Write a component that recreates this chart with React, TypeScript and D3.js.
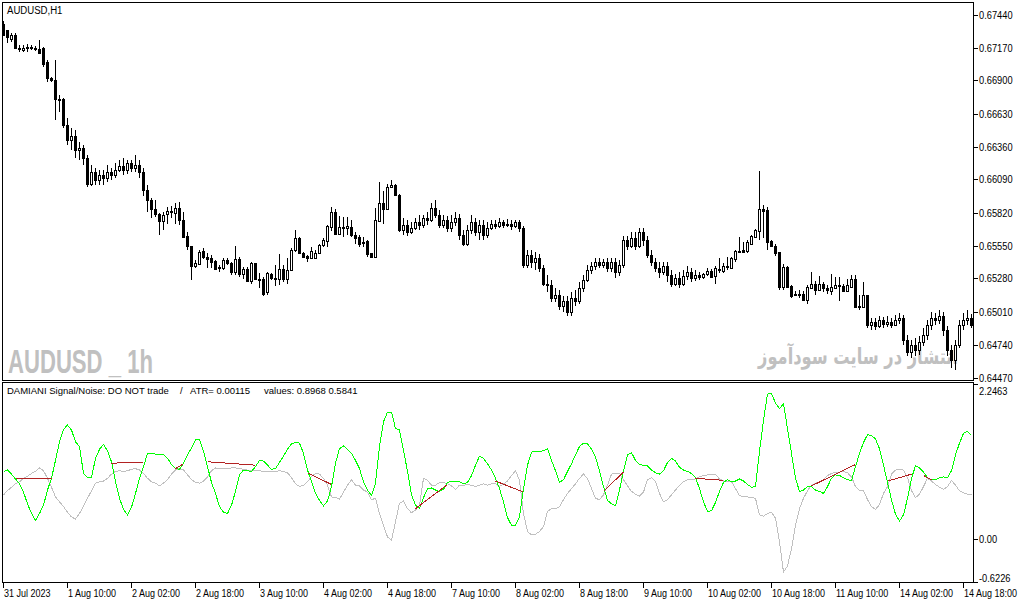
import { useEffect, useRef } from "react";
import * as d3 from "d3";

// AUDUSD H1 candles, bar 0 = 31 Jul 18:00
const open = [
  0.67366, 0.6731, 0.67236, 0.67269, 0.67163, 0.67146, 0.67163, 0.67171, 0.67163, 0.67154,
  0.67163, 0.67048, 0.66917, 0.66908, 0.66745, 0.66745, 0.66532, 0.6641, 0.6645, 0.66328,
  0.66345, 0.66263, 0.66057, 0.66148, 0.66082, 0.66123, 0.66099, 0.66148, 0.66123, 0.66164,
  0.66197, 0.66164, 0.66221, 0.66181, 0.66205, 0.66148, 0.66, 0.65919, 0.65845, 0.65804,
  0.65747, 0.65804, 0.65829, 0.65812, 0.65854, 0.65755, 0.65624, 0.6555, 0.65379, 0.65395,
  0.65502, 0.65453, 0.65445, 0.6542, 0.65371, 0.65363, 0.65428, 0.65403, 0.6533, 0.65436,
  0.65313, 0.65354, 0.65256, 0.65403, 0.65272, 0.65272, 0.65166, 0.65313, 0.65281, 0.65272,
  0.65354, 0.65272, 0.65346, 0.6551, 0.65608, 0.65485, 0.65461, 0.65445, 0.65445, 0.65485,
  0.65558, 0.65583, 0.65698, 0.65821, 0.65648, 0.65698, 0.6569, 0.65698, 0.6564, 0.65616,
  0.65575, 0.65583, 0.65488, 0.65453, 0.65747, 0.65894, 0.65845, 0.66025, 0.66041, 0.65967,
  0.65673, 0.65714, 0.65657, 0.6569, 0.65739, 0.65714, 0.65772, 0.65755, 0.65854, 0.65796,
  0.65714, 0.65755, 0.6569, 0.65739, 0.65772, 0.65632, 0.65566, 0.65673, 0.65739, 0.65657,
  0.65714, 0.65632, 0.6569, 0.65722, 0.65706, 0.65739, 0.65714, 0.6573, 0.65706, 0.65739,
  0.6569, 0.65387, 0.65469, 0.65412, 0.65445, 0.65363, 0.65239, 0.65223, 0.65117, 0.65149,
  0.65059, 0.651, 0.65003, 0.65117, 0.651, 0.65199, 0.65264, 0.65346, 0.65379, 0.65412,
  0.65387, 0.65412, 0.65363, 0.65412, 0.6533, 0.65387, 0.65591, 0.6555, 0.65608, 0.6555,
  0.65657, 0.65591, 0.65469, 0.65412, 0.65363, 0.6533, 0.65379, 0.65305, 0.65239, 0.65281,
  0.65231, 0.65297, 0.6533, 0.65281, 0.65305, 0.65289, 0.65313, 0.65338, 0.65297, 0.65354,
  0.65338, 0.65379, 0.65363, 0.65436, 0.65502, 0.6551, 0.65502, 0.65566, 0.65616, 0.65665,
  0.65845, 0.65837, 0.65583, 0.6555, 0.65494, 0.65207, 0.65371, 0.65215, 0.65141, 0.65157,
  0.65157, 0.65108, 0.65199, 0.65239, 0.65182, 0.65239, 0.65199, 0.65174, 0.65199, 0.65223,
  0.65215, 0.65174, 0.65207, 0.65272, 0.65051, 0.65043, 0.65141, 0.64896, 0.64921, 0.64888,
  0.64937, 0.64904, 0.64921, 0.64896, 0.64937, 0.64954, 0.64773, 0.64675, 0.64732, 0.64691,
  0.64757, 0.64814, 0.64896, 0.64954, 0.64937, 0.6497, 0.64855, 0.64691, 0.6461, 0.64732,
  0.64896, 0.64937, 0.64954,
];
const high = [
  0.67383, 0.67317, 0.67285, 0.67285, 0.67187, 0.67187, 0.67195, 0.67187, 0.67179, 0.67228,
  0.67171, 0.67064, 0.66925, 0.67064, 0.66778, 0.66754, 0.6659, 0.66508, 0.66491, 0.66394,
  0.66369, 0.66287, 0.66205, 0.66181, 0.66164, 0.66164, 0.66205, 0.66181, 0.66221, 0.66246,
  0.66263, 0.66246, 0.66246, 0.66287, 0.66246, 0.66181, 0.66041, 0.65935, 0.65919, 0.65812,
  0.65821, 0.65862, 0.6587, 0.65894, 0.65903, 0.65821, 0.65657, 0.6555, 0.65428, 0.6551,
  0.65526, 0.65485, 0.65469, 0.65428, 0.65387, 0.65445, 0.65445, 0.65412, 0.6555, 0.65453,
  0.65371, 0.65371, 0.65412, 0.65403, 0.65321, 0.65289, 0.6533, 0.65321, 0.65387, 0.65477,
  0.65387, 0.65445, 0.65526, 0.65673, 0.65616, 0.65494, 0.65469, 0.65534, 0.65517, 0.65566,
  0.65608, 0.65714, 0.65862, 0.65845, 0.65788, 0.6578, 0.6578, 0.65755, 0.65657, 0.65632,
  0.65616, 0.65591, 0.6549, 0.65854, 0.66066, 0.65992, 0.66057, 0.66082, 0.66057, 0.65975,
  0.65772, 0.65755, 0.65739, 0.65772, 0.65796, 0.65796, 0.65821, 0.65894, 0.65919, 0.65837,
  0.65796, 0.65788, 0.65796, 0.65821, 0.65804, 0.65673, 0.65714, 0.65796, 0.65772, 0.65755,
  0.65755, 0.65739, 0.65755, 0.65755, 0.65772, 0.65755, 0.65763, 0.65755, 0.65755, 0.65755,
  0.65706, 0.6551, 0.6551, 0.65494, 0.65477, 0.65387, 0.65305, 0.65264, 0.65199, 0.65182,
  0.65133, 0.65133, 0.65166, 0.65182, 0.65248, 0.65305, 0.65387, 0.65412, 0.65445, 0.65445,
  0.65436, 0.65445, 0.65445, 0.65445, 0.65428, 0.65624, 0.65624, 0.65657, 0.65657, 0.6569,
  0.6569, 0.65624, 0.6551, 0.65445, 0.65412, 0.65412, 0.65412, 0.65346, 0.65313, 0.6533,
  0.65346, 0.65379, 0.65363, 0.65346, 0.6533, 0.65321, 0.65363, 0.65354, 0.65379, 0.65445,
  0.65403, 0.65453, 0.65453, 0.65517, 0.65616, 0.65575, 0.65599, 0.65632, 0.65681, 0.66156,
  0.65878, 0.65862, 0.65599, 0.65566, 0.65494, 0.65395, 0.65379, 0.65223, 0.65174, 0.65182,
  0.65174, 0.65223, 0.6533, 0.65256, 0.65297, 0.65248, 0.65223, 0.65313, 0.65289, 0.65289,
  0.65231, 0.65272, 0.65305, 0.65305, 0.65141, 0.65248, 0.65149, 0.64954, 0.64954, 0.6497,
  0.64962, 0.6497, 0.64954, 0.64978, 0.64994, 0.64978, 0.64814, 0.64773, 0.6479, 0.64806,
  0.64872, 0.64937, 0.65003, 0.64994, 0.65019, 0.65003, 0.64888, 0.64732, 0.64773, 0.64937,
  0.64994, 0.65019, 0.64986,
];
const low = [
  0.67261, 0.67203, 0.67212, 0.67154, 0.6713, 0.6713, 0.6713, 0.67146, 0.67138, 0.67113,
  0.67007, 0.66884, 0.66884, 0.66573, 0.66639, 0.66508, 0.66369, 0.66328, 0.66263, 0.66246,
  0.66205, 0.66025, 0.66033, 0.66041, 0.66049, 0.66049, 0.66066, 0.66082, 0.66099, 0.66148,
  0.66123, 0.66131, 0.66148, 0.66148, 0.66099, 0.65959, 0.65821, 0.65772, 0.6578, 0.6564,
  0.65673, 0.6573, 0.65772, 0.6573, 0.65714, 0.65616, 0.65517, 0.65264, 0.65363, 0.65387,
  0.65436, 0.65363, 0.65363, 0.65346, 0.6533, 0.65346, 0.65387, 0.65305, 0.65305, 0.65289,
  0.65272, 0.65248, 0.65231, 0.65264, 0.65199, 0.65133, 0.65149, 0.65264, 0.65215, 0.65223,
  0.65248, 0.65239, 0.65338, 0.65494, 0.65477, 0.65453, 0.65412, 0.65436, 0.65436, 0.65477,
  0.65534, 0.65534, 0.65665, 0.6564, 0.65632, 0.65616, 0.65632, 0.65616, 0.65566, 0.65534,
  0.65534, 0.65453, 0.6545, 0.65445, 0.65739, 0.65722, 0.65837, 0.66017, 0.65959, 0.65657,
  0.65632, 0.65624, 0.65648, 0.65673, 0.65673, 0.6569, 0.65714, 0.65739, 0.65772, 0.6569,
  0.6569, 0.65657, 0.65657, 0.65706, 0.65591, 0.65542, 0.6555, 0.65648, 0.65624, 0.65591,
  0.65591, 0.65608, 0.65673, 0.65681, 0.6569, 0.6569, 0.65698, 0.65673, 0.6569, 0.65657,
  0.65363, 0.65363, 0.65363, 0.65346, 0.6533, 0.65215, 0.65166, 0.65084, 0.65084, 0.65019,
  0.65003, 0.6497, 0.6497, 0.65059, 0.65075, 0.65166, 0.65248, 0.65313, 0.65346, 0.65363,
  0.65363, 0.6533, 0.6533, 0.65281, 0.65297, 0.65363, 0.6551, 0.65526, 0.6551, 0.65526,
  0.6555, 0.65445, 0.65379, 0.6533, 0.65281, 0.65305, 0.65248, 0.65207, 0.65215, 0.65199,
  0.65215, 0.65264, 0.65248, 0.65256, 0.65264, 0.65272, 0.65297, 0.65289, 0.65239, 0.65321,
  0.65321, 0.65346, 0.6536, 0.65412, 0.65485, 0.65485, 0.65485, 0.65562, 0.65608, 0.65591,
  0.65608, 0.65517, 0.65534, 0.65461, 0.65182, 0.6519, 0.65199, 0.65117, 0.65133, 0.65117,
  0.651, 0.65075, 0.65199, 0.65141, 0.65174, 0.65166, 0.65157, 0.65149, 0.65197, 0.651,
  0.65166, 0.65166, 0.65199, 0.65035, 0.65019, 0.65035, 0.64872, 0.64855, 0.64855, 0.64872,
  0.64872, 0.6488, 0.64872, 0.64888, 0.64904, 0.64732, 0.64642, 0.64626, 0.64642, 0.64658,
  0.64724, 0.64773, 0.64855, 0.64896, 0.64904, 0.64806, 0.6465, 0.64545, 0.64528, 0.64708,
  0.64855, 0.64896, 0.64872,
];
const close = [
  0.67269, 0.67253, 0.67269, 0.67163, 0.67154, 0.67163, 0.67171, 0.67163, 0.67154, 0.67121,
  0.67039, 0.66917, 0.669, 0.66745, 0.66737, 0.66532, 0.6641, 0.6645, 0.66328, 0.66345,
  0.66263, 0.66057, 0.66148, 0.66082, 0.66123, 0.66099, 0.66148, 0.66123, 0.66164, 0.66197,
  0.66164, 0.66221, 0.66181, 0.66205, 0.66148, 0.66, 0.65919, 0.65845, 0.65804, 0.65747,
  0.65796, 0.65829, 0.65821, 0.65854, 0.65755, 0.65616, 0.6555, 0.65379, 0.65403, 0.65494,
  0.65453, 0.65436, 0.65412, 0.65354, 0.65363, 0.65428, 0.65403, 0.6533, 0.65436, 0.65313,
  0.65354, 0.65256, 0.65403, 0.65272, 0.65268, 0.65157, 0.65321, 0.65281, 0.65272, 0.65354,
  0.65272, 0.65346, 0.65517, 0.65608, 0.65485, 0.65453, 0.65445, 0.65502, 0.65485, 0.65558,
  0.65591, 0.65706, 0.65821, 0.65648, 0.65698, 0.6569, 0.65706, 0.65632, 0.65608, 0.65566,
  0.65571, 0.65477, 0.65455, 0.65755, 0.65894, 0.65845, 0.66025, 0.66041, 0.65967, 0.65673,
  0.65714, 0.65657, 0.6569, 0.65739, 0.65714, 0.65772, 0.65755, 0.65854, 0.65796, 0.65714,
  0.65755, 0.6569, 0.65739, 0.65772, 0.65632, 0.65566, 0.65673, 0.65739, 0.65657, 0.65714,
  0.65632, 0.6569, 0.65722, 0.65706, 0.65739, 0.65714, 0.6573, 0.65706, 0.65739, 0.6569,
  0.65387, 0.65469, 0.65412, 0.65445, 0.65363, 0.65239, 0.65223, 0.65117, 0.65149, 0.65059,
  0.651, 0.65003, 0.65117, 0.651, 0.65199, 0.65264, 0.65346, 0.65379, 0.65412, 0.65387,
  0.65412, 0.65363, 0.65412, 0.6533, 0.65387, 0.65591, 0.6555, 0.65608, 0.6555, 0.65657,
  0.65591, 0.65469, 0.65412, 0.65363, 0.6533, 0.65379, 0.65305, 0.65239, 0.65281, 0.65231,
  0.65297, 0.6533, 0.65281, 0.65305, 0.65289, 0.65313, 0.65338, 0.65292, 0.65363, 0.6535,
  0.65379, 0.65375, 0.65445, 0.65502, 0.65498, 0.65494, 0.65575, 0.65624, 0.65673, 0.65845,
  0.65835, 0.65575, 0.65542, 0.65485, 0.65207, 0.65371, 0.65207, 0.65133, 0.65157, 0.65141,
  0.65108, 0.65207, 0.65239, 0.65182, 0.65231, 0.65199, 0.6519, 0.65207, 0.65223, 0.65215,
  0.65174, 0.65223, 0.65272, 0.65043, 0.65043, 0.65141, 0.64896, 0.64921, 0.64888, 0.64937,
  0.64904, 0.64921, 0.64896, 0.64937, 0.64954, 0.64773, 0.64675, 0.64732, 0.64691, 0.64757,
  0.64814, 0.64896, 0.64954, 0.64937, 0.6497, 0.64855, 0.64691, 0.6461, 0.64732, 0.64896,
  0.64937, 0.64954, 0.64896,
];

// Damiani volatmeter buffers
const signal = [
  0.98, 1.0, 0.94, 0.87, 0.8, 0.68, 0.51, 0.37, 0.27, 0.37,
  0.49, 0.71, 0.88, 1.14, 1.41, 1.59, 1.65, 1.58, 1.41, 1.34,
  0.95, 0.89, 0.89, 1.17, 1.3, 1.37, 1.28, 1.12, 0.83, 0.59,
  0.43, 0.35, 0.46, 0.66, 0.88, 1.05, 1.24, 1.24, 1.23, 1.22,
  1.22, 1.17, 1.08, 1.02, 1.01, 1.1, 1.22, 1.32, 1.44, 1.44,
  1.27, 1.05, 0.82, 0.66, 0.47, 0.39, 0.37, 0.49, 0.69, 0.93,
  1.0, 0.99, 0.98, 1.05, 1.14, 1.13, 1.07, 1.01, 1.02, 1.11,
  1.2, 1.3, 1.38, 1.4, 1.39, 1.24, 1.0, 0.83, 0.66, 0.56,
  0.48, 0.55, 0.76, 1.1, 1.31, 1.35, 1.3, 1.24, 1.14, 1.02,
  0.83, 0.71, 0.63, 0.81, 1.34, 1.7, 1.84, 1.84, 1.6, 1.58,
  1.29, 0.98, 0.64, 0.49, 0.44, 0.6, 0.73, 0.74, 0.71, 0.69,
  0.72, 0.82, 0.84, 0.84, 0.83, 0.8, 0.82, 0.92, 1.07, 1.2,
  1.17, 1.09, 1.0, 0.88, 0.73, 0.54, 0.31, 0.2, 0.2, 0.32,
  0.73, 1.07, 1.26, 1.27, 1.27, 1.28, 1.31, 1.14, 0.99, 0.82,
  0.86, 0.98, 1.09, 1.22, 1.34, 1.39, 1.38, 1.3, 1.19, 0.99,
  0.76, 0.56, 0.51, 0.48, 0.71, 0.99, 1.22, 1.25, 1.14, 1.08,
  1.07, 1.06, 1.0, 0.96, 0.94, 0.99, 1.11, 1.17, 1.13, 1.04,
  1.0, 0.98, 0.95, 0.89, 0.73, 0.54, 0.4, 0.41, 0.53, 0.69,
  0.82, 0.86, 0.83, 0.84, 0.87, 0.84, 0.79, 0.75, 0.76, 1.27,
  1.72, 2.1, 2.11, 1.97, 1.89, 1.96, 1.6, 1.24, 0.88, 0.69,
  0.71, 0.76, 0.76, 0.71, 0.69, 0.66, 0.76, 0.88, 0.93, 0.92,
  0.89, 0.86, 0.85, 1.05, 1.24, 1.4, 1.51, 1.5, 1.45, 1.31,
  1.07, 0.82, 0.57, 0.36, 0.26, 0.35, 0.59, 0.88, 1.06, 1.03,
  0.97, 0.89, 0.86, 0.86, 0.89, 0.9, 0.89, 0.99, 1.22, 1.39,
  1.53, 1.56, 1.5,
];
const noise = [
  0.64, 0.7, 0.75, 0.8, 0.83, 0.88, 0.91, 0.95, 0.98, 1.03,
  0.99, 0.88, 0.75, 0.61, 0.54, 0.47, 0.39, 0.32, 0.29, 0.37,
  0.48, 0.59, 0.7, 0.81, 0.83, 0.84, 0.88, 0.94, 0.98, 0.99,
  0.98, 0.99, 1.01, 1.02, 1.0, 0.95, 0.88, 0.83, 0.81, 0.77,
  0.81, 0.86, 0.94, 1.0, 1.02, 1.0, 0.93, 0.86, 0.82, 0.81,
  0.84, 0.9, 0.99, 1.03, 1.02, 1.02, 1.02, 1.03, 1.03, 1.02,
  1.01, 1.0, 0.99, 0.99, 0.99, 0.98, 0.98, 0.98, 0.98, 0.99,
  0.98, 0.96, 0.89, 0.8, 0.76, 0.78, 0.83, 0.91, 0.95, 0.94,
  0.88, 0.78, 0.61, 0.6, 0.58, 0.68, 0.78, 0.86, 0.78, 0.77,
  0.71, 0.68, 0.57, 0.59, 0.37, 0.2, 0.03, -0.02, 0.25, 0.52,
  0.55, 0.44, 0.38, 0.42, 0.49, 0.88, 0.85, 0.78, 0.78, 0.82,
  0.82, 0.8, 0.77, 0.72, 0.78, 0.78, 0.79, 0.78, 0.76, 0.78,
  0.8, 0.78, 0.8, 0.8, 0.76, 0.8, 0.84, 0.92, 0.99, 0.85,
  0.37, 0.11, 0.06, 0.07, 0.11, 0.18, 0.4, 0.44, 0.44, 0.47,
  0.57, 0.66, 0.73, 0.8, 0.88, 0.94, 0.88, 0.73, 0.59, 0.57,
  0.64, 0.78, 0.94, 0.95, 0.95, 0.86, 0.77, 0.69, 0.65, 0.62,
  0.68, 0.86, 0.89, 0.83, 0.66, 0.54, 0.57, 0.64, 0.71, 0.78,
  0.83, 0.86, 0.86, 0.87, 0.9, 0.92, 0.93, 0.94, 0.94, 0.87,
  0.84, 0.84, 0.83, 0.73, 0.63, 0.61, 0.61, 0.6, 0.59, 0.35,
  0.33, 0.37, 0.39, 0.3, -0.04, -0.48, -0.39, -0.14, 0.2, 0.44,
  0.59, 0.7, 0.78, 0.81, 0.83, 0.86, 0.92, 0.95, 0.97, 0.97,
  0.98, 0.96, 0.9, 0.76, 0.7, 0.7, 0.57, 0.47, 0.43, 0.5,
  0.66, 0.76, 0.94, 1.0, 1.01, 1.0, 0.89, 0.7, 0.6, 0.65,
  0.76, 0.88, 0.84, 0.79, 0.75, 0.72, 0.76, 0.85, 0.78, 0.7,
  0.67, 0.65, 0.64,
];
// "do not trade" segments (bar from, bar to, value from, value to)
const redStart = [3, 27, 43, 51, 76, 103, 123, 150, 173, 202, 221, 230];
const redEnd = [12, 35, 45, 63, 82, 111, 130, 155, 180, 213, 227, 232];
const redFrom = [0.87, 1.1, 1.02, 1.12, 0.96, 0.44, 0.84, 0.69, 0.88, 0.77, 0.84, 0.92];
const redTo = [0.87, 1.11, 1.09, 1.07, 0.79, 0.79, 0.68, 0.97, 0.85, 1.08, 0.94, 0.86];

const priceTicks = [
  0.6744, 0.6717, 0.669, 0.6663, 0.6636, 0.6609, 0.6582, 0.6555, 0.6528, 0.6501, 0.6474, 0.6447,
];
const indMax = 2.2463;
const indMin = -0.6226;
const timeBars = [0, 16, 32, 48, 64, 80, 96, 112, 128, 144, 160, 176, 192, 208, 224, 240];
const timeLabels = [
  "31 Jul 2023", "1 Aug 10:00", "2 Aug 02:00", "2 Aug 18:00", "3 Aug 10:00", "4 Aug 02:00",
  "4 Aug 18:00", "7 Aug 10:00", "8 Aug 02:00", "8 Aug 18:00", "9 Aug 10:00", "10 Aug 02:00",
  "10 Aug 18:00", "11 Aug 10:00", "14 Aug 02:00", "14 Aug 18:00",
];

type TextSel = d3.Selection<SVGTextElement, unknown, null, undefined>;

export default function App() {
  const svgRef = useRef<SVGSVGElement | null>(null);

  useEffect(() => {
    const svg = d3.select(svgRef.current);
    svg.selectAll("*").remove();
    const font = "'Liberation Sans', Arial, sans-serif";

    const x = d3.scaleLinear().domain([0, open.length - 1]).range([3, 971]);
    const px = (i: number) => Math.round(x(i)) + 0.5;
    const y = d3.scaleLinear().domain([0.6447, 0.6744]).range([377.5, 14.5]);
    const yi = d3.scaleLinear().domain([indMin, indMax]).range([582, 384]);

    // the terminal font is narrower than Liberation: squeeze text horizontally
    const squeeze = (t: TextSel, k: number) => {
      const x0 = +t.attr("x");
      const y0 = +t.attr("y");
      t.attr("x", 0).attr("y", 0).attr("transform", `translate(${x0},${y0}) scale(${k},1)`);
    };
    const fitWidth = (t: TextSel, w: number) => {
      const node = t.node();
      if (!node) return;
      squeeze(t, w / node.getComputedTextLength());
    };

    svg.append("rect").attr("width", 1019).attr("height", 605).attr("fill", "#fff");

    // watermarks
    fitWidth(
      svg
        .append("text")
        .attr("x", 8)
        .attr("y", 373)
        .attr("font-family", "'Liberation Sans Narrow', 'Liberation Sans', sans-serif")
        .attr("font-weight", "bold")
        .attr("font-size", 33)
        .attr("fill", "#c0c0c0")
        .text("AUDUSD _ 1h"),
      145
    );
    fitWidth(
      svg
        .append("text")
        .attr("x", 858)
        .attr("y", 364)
        .attr("text-anchor", "middle")
        .attr("font-family", "'DejaVu Sans', sans-serif")
        .attr("font-weight", "bold")
        .attr("font-size", 22)
        .attr("fill", "#c0c0c0")
        .text("انتشار در سایت سودآموز"),
      200
    );

    // candles
    const cg = svg.append("g").attr("shape-rendering", "crispEdges");
    open.forEach((o, i) => {
      const c = close[i];
      const cx = px(i);
      cg.append("line")
        .attr("x1", cx)
        .attr("x2", cx)
        .attr("y1", y(high[i]))
        .attr("y2", y(low[i]))
        .attr("stroke", "#000");
      const top = Math.round(y(Math.max(o, c)));
      const bot = Math.round(y(Math.min(o, c)));
      if (bot - top < 1) {
        cg.append("line")
          .attr("x1", cx - 1.5)
          .attr("x2", cx + 1.5)
          .attr("y1", top + 0.5)
          .attr("y2", top + 0.5)
          .attr("stroke", "#000");
      } else {
        cg.append("rect")
          .attr("x", cx - 1)
          .attr("y", top + 0.5)
          .attr("width", 2)
          .attr("height", bot - top)
          .attr("fill", c > o ? "#fff" : "#000")
          .attr("stroke", "#000");
      }
    });

    // indicator lines
    const line = d3
      .line<number>()
      .x((_, i) => px(i))
      .y((d) => yi(d));
    const lg = svg.append("g").attr("fill", "none").attr("shape-rendering", "crispEdges");
    lg.append("path").attr("d", line(noise)).attr("stroke", "#c0c0c0");
    lg.append("path").attr("d", line(signal)).attr("stroke", "#00ff00");
    const seg = d3
      .line<[number, number]>()
      .x((d) => px(d[0]))
      .y((d) => yi(d[1]));
    redStart.forEach((s, k) => {
      lg.append("path")
        .attr("d", seg([[s, redFrom[k]], [redEnd[k], redTo[k]]]))
        .attr("stroke", "#b22222");
    });

    // frames
    const fg = svg.append("g").attr("fill", "none").attr("stroke", "#000").attr("shape-rendering", "crispEdges");
    fg.append("rect").attr("x", 2.5).attr("y", 2.5).attr("width", 971).attr("height", 378);
    fg.append("rect").attr("x", 2.5).attr("y", 382.5).attr("width", 971).attr("height", 200);

    // price axis
    const ag = svg.append("g").attr("font-family", font).attr("font-size", 10).attr("fill", "#000");
    priceTicks.forEach((p) => {
      const yy = Math.round(y(p)) + 0.5;
      ag.append("line").attr("x1", 974).attr("x2", 978).attr("y1", yy).attr("y2", yy).attr("stroke", "#000").attr("shape-rendering", "crispEdges");
      squeeze(ag.append("text").attr("x", 979).attr("y", yy).attr("dy", "0.35em").text(p.toFixed(5)), 0.93);
    });

    // indicator axis
    const indTicks = [
      { v: indMax, t: indMax.toFixed(4), off: 7 },
      { v: 0, t: "0.00", off: 0 },
      { v: indMin, t: indMin.toFixed(4), off: -4 },
    ];
    indTicks.forEach((d) => {
      const yy = Math.round(yi(d.v)) + 0.5;
      ag.append("line").attr("x1", 974).attr("x2", 978).attr("y1", yy).attr("y2", yy).attr("stroke", "#000").attr("shape-rendering", "crispEdges");
      squeeze(ag.append("text").attr("x", 979).attr("y", yy + d.off).attr("dy", "0.35em").text(d.t), 0.93);
    });

    // time axis
    timeBars.forEach((b, k) => {
      const xx = px(b);
      ag.append("line").attr("x1", xx).attr("x2", xx).attr("y1", 583).attr("y2", 588).attr("stroke", "#000").attr("shape-rendering", "crispEdges");
      squeeze(ag.append("text").attr("x", xx + 0.5).attr("y", 597).text(timeLabels[k]), 0.9);
    });

    // titles
    squeeze(ag.append("text").attr("x", 7).attr("y", 14).text("AUDUSD,H1"), 0.96);
    const lab = ag.append("g").attr("font-size", 9.5);
    lab.append("text").attr("x", 7).attr("y", 394).text("DAMIANI Signal/Noise: DO NOT trade");
    lab.append("text").attr("x", 180).attr("y", 394).text("/");
    lab.append("text").attr("x", 190).attr("y", 394).text("ATR= 0.00115");
    lab.append("text").attr("x", 264).attr("y", 394).text("values: 0.8968 0.5841");
  }, []);

  return (
    <svg
      ref={svgRef}
      width={1019}
      height={605}
      style={{ position: "absolute", left: 0, top: 0, display: "block" }}
    />
  );
}
